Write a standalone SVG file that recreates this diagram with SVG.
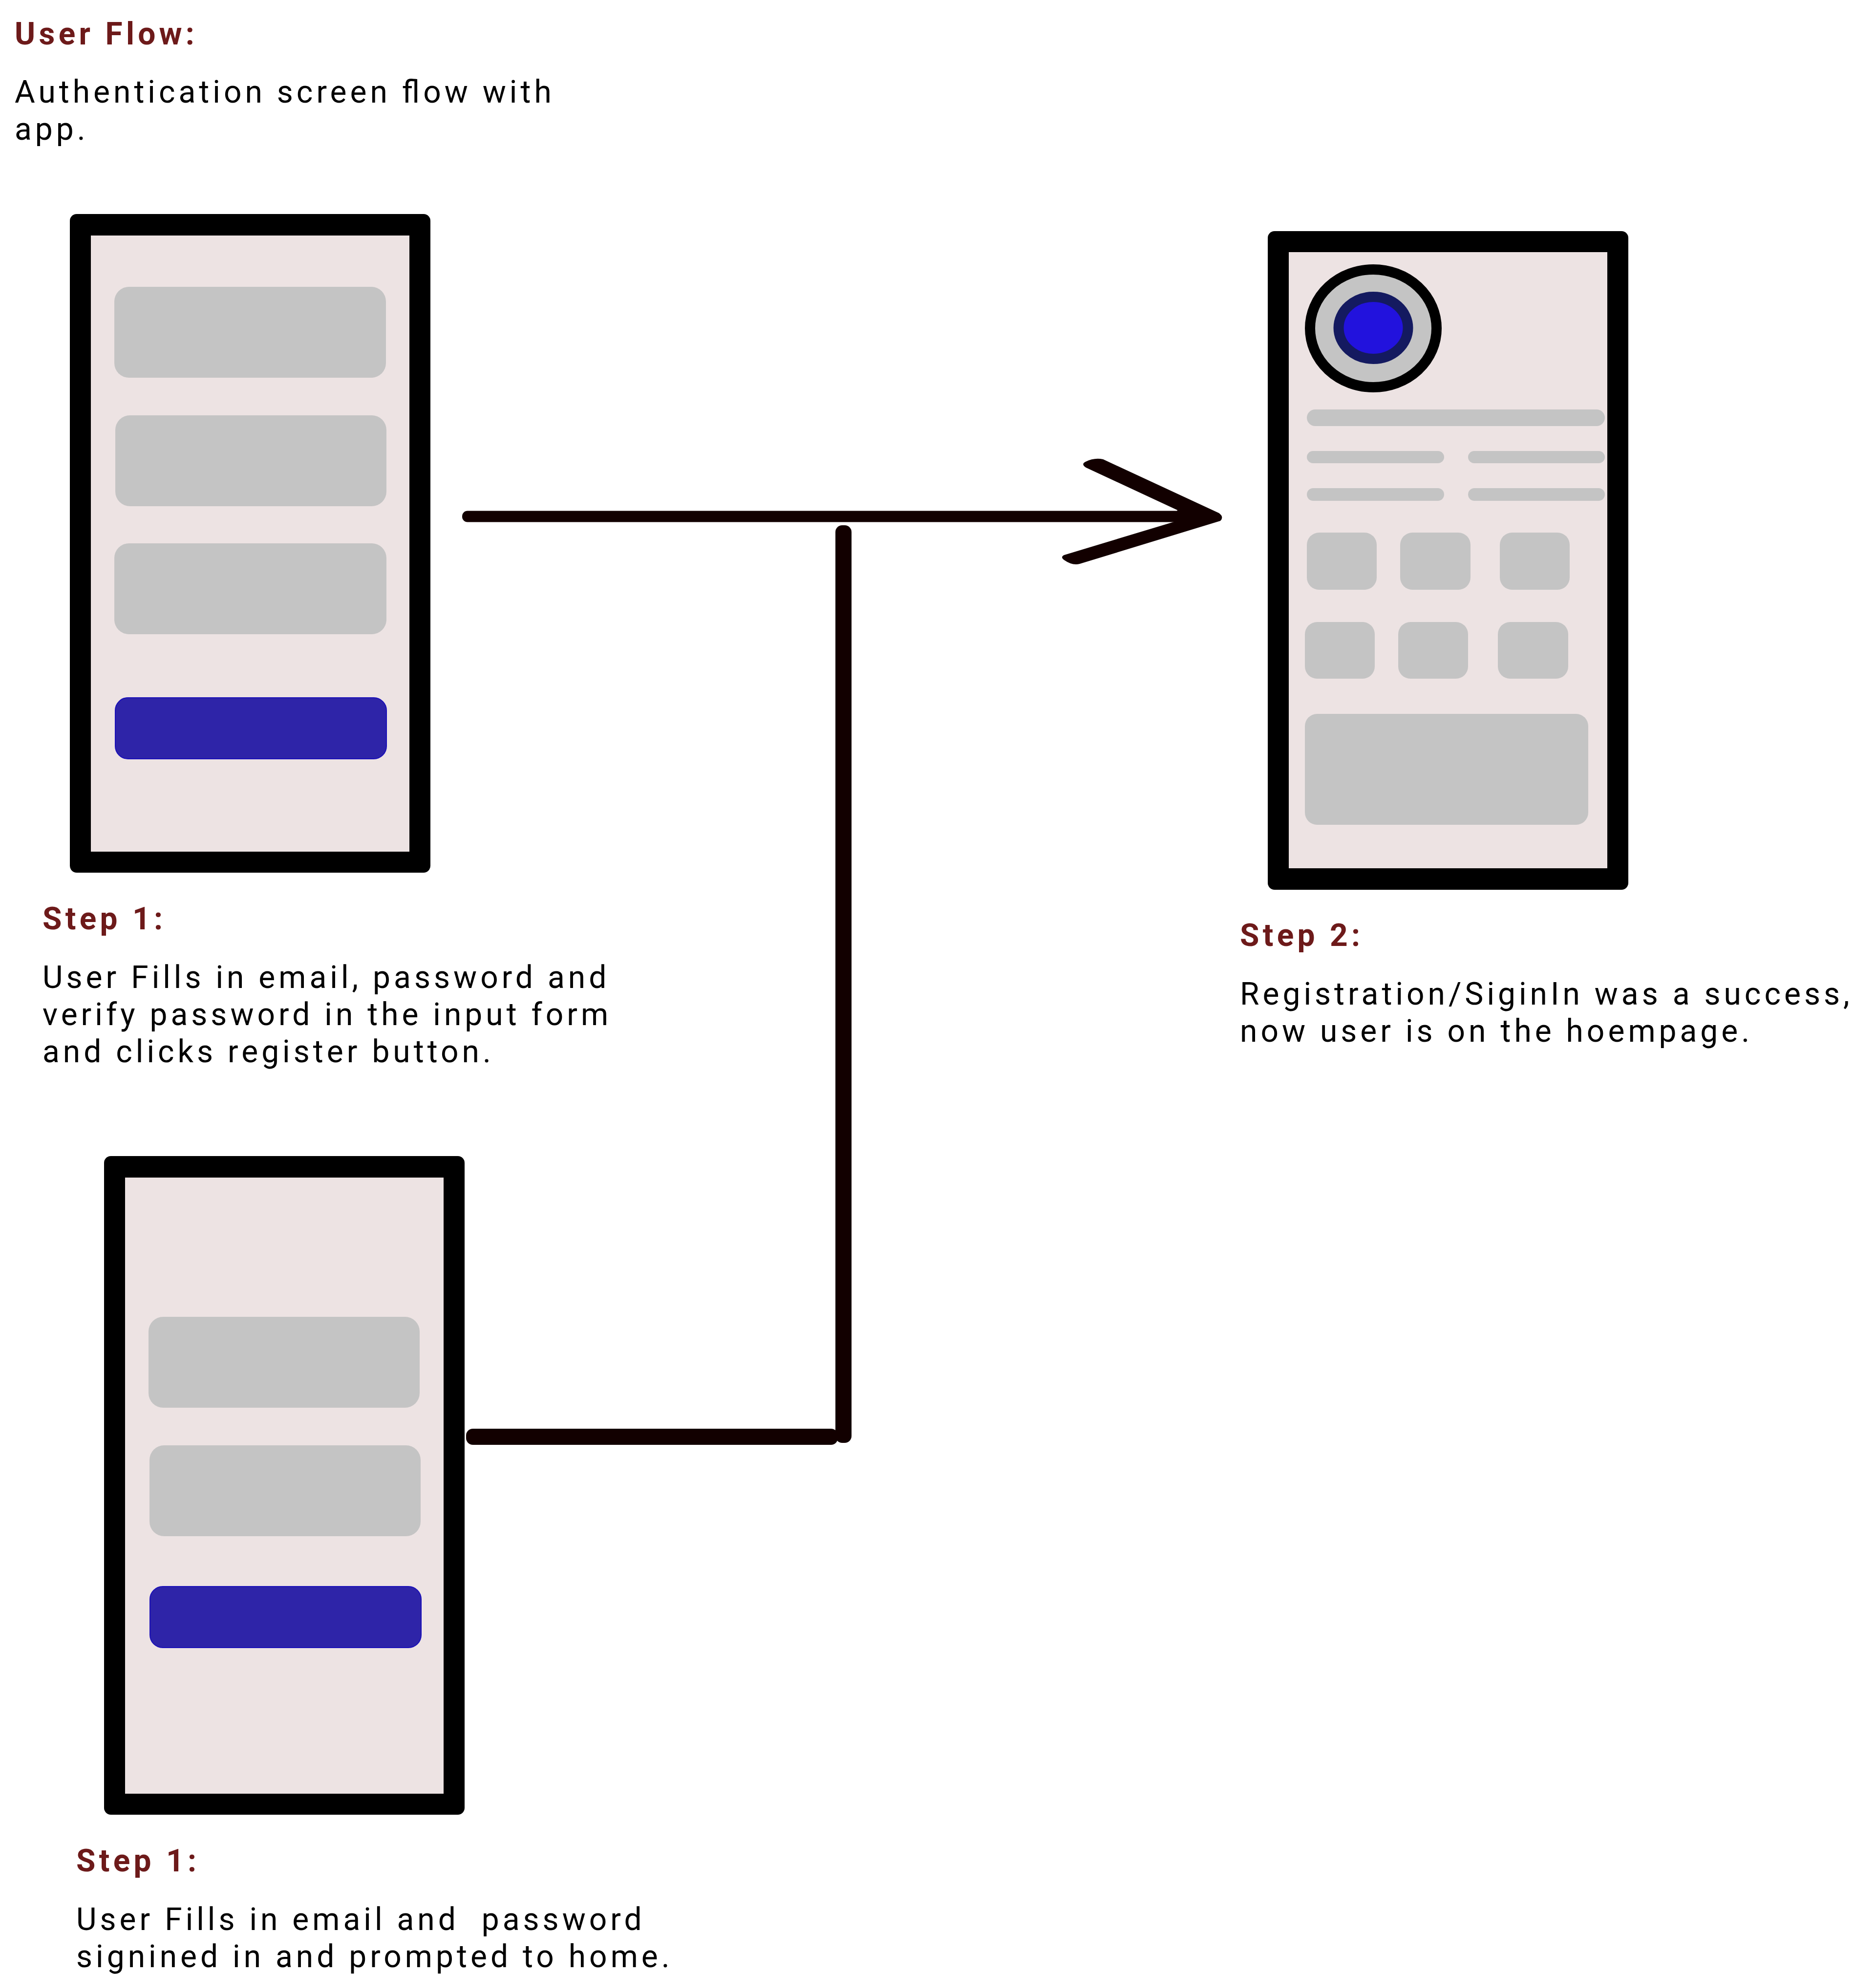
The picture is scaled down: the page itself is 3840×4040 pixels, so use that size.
<svg xmlns="http://www.w3.org/2000/svg" width="3840" height="4040" viewBox="0 0 3840 4040">
<style>
.frame{fill:#000}
.screen{fill:#ede3e3}
.g{fill:#c4c4c4}
.btn{fill:#2e24a8;stroke:#1a10b8;stroke-width:2}
.conn{fill:#120000}
text{font-family:Roboto,"Liberation Sans",sans-serif;font-size:64px;letter-spacing:7.04px;fill:#000}
.h{font-weight:700;fill:#6d1a1a;letter-spacing:7.3px}
</style>
<rect width="3840" height="4040" fill="#fff"/>
<g id="title"><text class="h" x="30" y="91">User Flow:</text><text x="30" y="210">Authentication screen <tspan style="letter-spacing:0">fl</tspan><tspan dx="7">ow with</tspan></text><text x="30" y="286">app.</text></g>
<g id="phone-register">
<rect class="frame" x="143" y="438" width="738" height="1348" rx="14"/><rect class="screen" x="186" y="482" width="652" height="1261"/>
<rect class="g" x="234" y="587" width="556" height="186" rx="30"/>
<rect class="g" x="236" y="850" width="555" height="186" rx="30"/>
<rect class="g" x="234" y="1112" width="557" height="186" rx="30"/>
<rect class="btn" x="236" y="1428" width="555" height="125" rx="26"/>
<text class="h" x="87" y="1902">Step 1:</text>
<text x="87" y="2022">User Fills in email, password and</text><text x="87" y="2098">verify password in the input form</text><text x="87" y="2174">and clicks register button.</text>
</g>
<g id="phone-home">
<rect class="frame" x="2595" y="473" width="738" height="1348" rx="14"/><rect class="screen" x="2638" y="516" width="652" height="1261"/>
<ellipse cx="2811" cy="672" rx="129.5" ry="120.5" fill="#c4c4c4" stroke="#000" stroke-width="21"/>
<ellipse cx="2811" cy="671" rx="71" ry="63.5" fill="#2212dd" stroke="#141a60" stroke-width="21"/>
<rect class="g" x="2675" y="838" width="610" height="34" rx="17"/>
<rect class="g" x="2675" y="923" width="281" height="25" rx="12.5"/><rect class="g" x="3005" y="923" width="280" height="25" rx="12.5"/>
<rect class="g" x="2675" y="999" width="281" height="26" rx="13"/><rect class="g" x="3005" y="999" width="280" height="26" rx="13"/>
<rect class="g" x="2675" y="1090" width="143" height="117" rx="25"/><rect class="g" x="2866" y="1090" width="144" height="117" rx="25"/><rect class="g" x="3070" y="1090" width="143" height="117" rx="25"/>
<rect class="g" x="2671" y="1273" width="143" height="116" rx="25"/><rect class="g" x="2862" y="1273" width="143" height="116" rx="25"/><rect class="g" x="3066" y="1273" width="144" height="116" rx="25"/>
<rect class="g" x="2671" y="1461" width="580" height="227" rx="25"/>
<text class="h" x="2538" y="1936">Step 2:</text>
<text x="2538" y="2056">Registration/SiginIn was a success,</text><text x="2538" y="2132">now user is on the hoempage.</text>
</g>
<g id="phone-login">
<rect class="frame" x="213" y="2366" width="738" height="1348" rx="14"/><rect class="screen" x="256" y="2410" width="652" height="1261"/>
<rect class="g" x="304" y="2695" width="555" height="186" rx="30"/>
<rect class="g" x="306" y="2958" width="555" height="186" rx="30"/>
<rect class="btn" x="307" y="3247" width="555" height="125" rx="26"/>
<text class="h" x="156" y="3830">Step 1:</text>
<text x="156" y="3950" xml:space="preserve">User Fills in email and  password</text><text x="156" y="4026">signined in and prompted to home.</text>
</g>
<g id="connectors">
<rect class="conn" x="946" y="1045.5" width="1500" height="23" rx="11"/>
<path class="conn" d="M2258 940L2495 1050Q2506 1058 2498 1066L2210 1154Q2195 1158 2178 1146Q2170 1140 2178 1136L2403 1068L2410 1044L2223 957Q2212 950 2222 945Q2240 936 2258 940Z"/>
<rect class="conn" x="1710" y="1075" width="33" height="1878" rx="14"/>
<rect class="conn" x="954" y="2924" width="761" height="33" rx="14"/>
</g>
</svg>
